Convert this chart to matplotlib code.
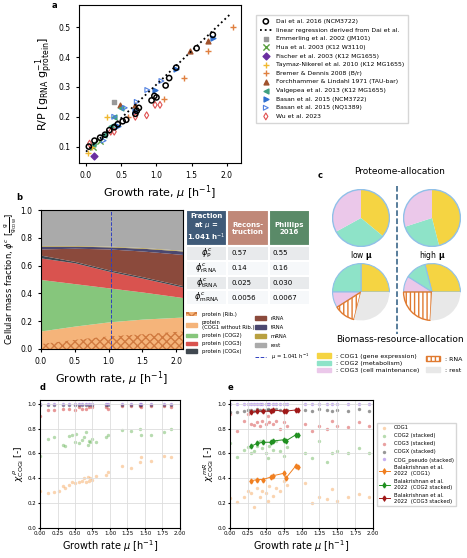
import numpy as np
import matplotlib.pyplot as plt
from matplotlib.patches import Patch
from matplotlib.lines import Line2D

# ---------------- data: panel a ----------------
dai_mu = [0.04, 0.12, 0.2, 0.27, 0.33, 0.4, 0.45, 0.52, 0.57, 0.7, 0.72, 0.75, 0.93, 0.97, 1.0, 1.13, 1.18, 1.28, 1.57, 1.8]
dai_rp = [0.10, 0.12, 0.13, 0.14, 0.155, 0.165, 0.175, 0.185, 0.19, 0.21, 0.22, 0.23, 0.255, 0.27, 0.265, 0.305, 0.33, 0.365, 0.43, 0.475]
reg_mu = [0.0, 2.05]
reg_rp = [0.083, 0.545]
other_sets = [
    ("Emmerling et al. 2002 (JM101)", "s", "#999999", [0.4], [0.25]),
    ("Hua et al. 2003 (K12 W3110)", "x", "#5aa040", [0.1, 0.2], [0.1, 0.12]),
    ("Fischer et al. 2003 (K12 MG1655)", "D", "#6a2fa0", [0.12], [0.067]),
    ("Taymaz-Nikerel et al. 2010 (K12 MG1655)", "+", "#f0b830", [0.03, 0.08, 0.3], [0.08, 0.1, 0.2]),
    ("Bremer & Dennis 2008 (B/r)", "+", "#e08040", [0.6, 1.1, 1.39, 1.73, 2.08], [0.2, 0.26, 0.33, 0.42, 0.5]),
    ("Forchhammer & Lindahl 1971 (TAU-bar)", "^", "#a0522d", [0.48, 0.7, 1.47, 1.73], [0.24, 0.24, 0.42, 0.455]),
    ("Valgepea et al. 2013 (K12 MG1655)", "<", "#40a080", [0.1, 0.25, 0.35, 0.4, 0.5], [0.11, 0.14, 0.17, 0.2, 0.23]),
    ("Basan et al. 2015 (NCM3722)", ">", "#3070d0", [0.45, 0.7, 0.98, 1.28, 1.8], [0.17, 0.22, 0.29, 0.36, 0.465]),
    ("Basan et al. 2015 (NQ1389)", ">", "#5080e0", [0.25, 0.4, 0.55, 0.72, 0.87, 1.07], [0.12, 0.2, 0.23, 0.25, 0.29, 0.32]),
    ("Wu et al. 2023", "d", "#e05050", [0.05, 0.35, 0.4, 0.7, 0.86, 0.98, 1.05], [0.11, 0.15, 0.15, 0.2, 0.205, 0.24, 0.24]),
]

# ---------------- data: panel b (cumulative tops) ----------------
mu_b = [0.0, 0.5, 1.0, 1.5, 2.1]
top_rib = [0.04, 0.07, 0.095, 0.11, 0.13]
top_cog1 = [0.13, 0.165, 0.195, 0.215, 0.23]
top_cog2 = [0.50, 0.47, 0.44, 0.41, 0.37]
top_cog3 = [0.655, 0.62, 0.56, 0.51, 0.445]
top_cogx = [0.675, 0.63, 0.57, 0.52, 0.455]
top_rrna = [0.72, 0.725, 0.72, 0.705, 0.68]
top_trna = [0.74, 0.74, 0.735, 0.725, 0.705]
top_mrna = [0.745, 0.745, 0.74, 0.73, 0.71]
table_rows = [r"$\phi^c_{\rm P}$", r"$\phi^c_{\rm rRNA}$", r"$\phi^c_{\rm tRNA}$", r"$\phi^c_{\rm mRNA}$"]
table_recon = ["0.57", "0.14", "0.025", "0.0056"]
table_phil = ["0.55", "0.16", "0.030", "0.0067"]

# ---------------- data: panel c ----------------
prot_low = [0.36, 0.31, 0.33]
prot_high = [0.46, 0.24, 0.30]
bio_low = [0.25, 0.25, 0.09, 0.12, 0.29]
bio_high = [0.29, 0.12, 0.09, 0.24, 0.26]

# ---------------- data: panel d ----------------
d_cog1_mu = [0.0, 0.12, 0.2, 0.27, 0.33, 0.35, 0.42, 0.45, 0.5, 0.55, 0.6, 0.63, 0.65, 0.68, 0.7, 0.72, 0.75, 0.8, 0.95, 0.97, 1.17, 1.3, 1.43, 1.45, 1.58, 1.77, 1.87]
d_cog1_y = [0.30, 0.28, 0.29, 0.3, 0.34, 0.32, 0.35, 0.37, 0.36, 0.37, 0.38, 0.4, 0.37, 0.41, 0.38, 0.4, 0.39, 0.42, 0.43, 0.45, 0.5, 0.48, 0.53, 0.57, 0.54, 0.58, 0.57]
d_cog2_mu = [0.0, 0.12, 0.2, 0.33, 0.35, 0.42, 0.45, 0.5, 0.52, 0.55, 0.6, 0.63, 0.65, 0.68, 0.7, 0.72, 0.75, 0.8, 0.95, 0.97, 1.17, 1.3, 1.43, 1.45, 1.58, 1.77, 1.87]
d_cog2_y = [0.58, 0.72, 0.73, 0.67, 0.66, 0.74, 0.75, 0.69, 0.76, 0.68, 0.71, 0.73, 0.77, 0.67, 0.7, 0.69, 0.72, 0.69, 0.73, 0.75, 0.79, 0.78, 0.8, 0.75, 0.75, 0.77, 0.8]
d_hi_mu = [0.0, 0.12, 0.2, 0.33, 0.42, 0.5, 0.55, 0.6, 0.65, 0.7, 0.75, 0.95, 0.97, 1.17, 1.3, 1.43, 1.45, 1.58, 1.77, 1.87]
d_cog3_y = [0.9, 0.95, 0.95, 0.96, 0.96, 0.95, 0.97, 0.96, 0.96, 0.97, 0.97, 0.97, 0.96, 0.98, 0.98, 0.98, 0.97, 0.98, 0.98, 0.97]
d_cogx_y = [0.99] * 20
d_pseudo_y = [1.0] * 20

# ---------------- data: panel e ----------------
e_mu = [0.0, 0.1, 0.2, 0.25, 0.3, 0.33, 0.38, 0.42, 0.45, 0.5, 0.53, 0.55, 0.6, 0.65, 0.7, 0.75, 0.8, 1.05, 1.15, 1.25, 1.35, 1.43, 1.5, 1.65, 1.8, 1.95]
e_cog1_y = [0.24, 0.21, 0.25, 0.3, 0.28, 0.17, 0.32, 0.25, 0.3, 0.28, 0.22, 0.34, 0.26, 0.32, 0.3, 0.38, 0.35, 0.36, 0.2, 0.25, 0.23, 0.31, 0.22, 0.25, 0.27, 0.25]
e_cog2_y = [0.68, 0.57, 0.63, 0.65, 0.6, 0.62, 0.66, 0.7, 0.64, 0.6, 0.56, 0.66, 0.63, 0.7, 0.62, 0.58, 0.65, 0.6, 0.56, 0.7, 0.53, 0.6, 0.62, 0.6, 0.64, 0.6]
e_cog3_y = [0.92, 0.78, 0.86, 0.92, 0.84, 0.83, 0.85, 0.82, 0.86, 0.84, 0.9, 0.85, 0.84, 0.86, 0.8, 0.85, 0.82, 0.84, 0.78, 0.82, 0.8, 0.86, 0.82, 0.81, 0.85, 0.82]
e_cogx_y = [0.93, 0.93, 0.94, 0.95, 0.95, 0.94, 0.96, 0.95, 0.94, 0.95, 0.96, 0.95, 0.94, 0.96, 0.95, 0.94, 0.95, 0.95, 0.94, 0.96, 0.95, 0.94, 0.95, 0.94, 0.96, 0.94]
e_pseudo_y = [1.0] * 26
bal_mu = [0.3, 0.38, 0.46, 0.57, 0.6, 0.75, 0.78, 0.92, 0.95]
bal_cog1 = [0.38, 0.39, 0.39, 0.41, 0.42, 0.44, 0.40, 0.50, 0.49]
bal_cog2 = [0.66, 0.68, 0.69, 0.69, 0.70, 0.71, 0.70, 0.75, 0.75]
bal_cog3 = [0.93, 0.94, 0.94, 0.94, 0.95, 0.94, 0.94, 0.95, 0.95]

W, H = 467, 558
fig = plt.figure(figsize=(W / 100, H / 100), dpi=100)


def box(x0, y0, x1, y1):
    # pixel box -> figure fraction rect
    return [x0 / W, 1 - y1 / H, (x1 - x0) / W, (y1 - y0) / H]


# ---------------- panel a ----------------
ax = fig.add_axes(box(79, 5, 241, 163))
h = [ax.scatter(dai_mu, dai_rp, s=14, facecolors="none", edgecolors="k", linewidths=1.1, zorder=3, label="Dai et al. 2016 (NCM3722)")]
h += ax.plot(reg_mu, reg_rp, "k:", lw=1.3, label="linear regression derived from Dai et al.")
for name, m, c, xs, ys in other_sets:
    if m in ("+", "x"):
        h.append(ax.scatter(xs, ys, marker=m, c=c, s=20, lw=1, label=name))
    elif m == "d" or name.endswith("(NQ1389)"):
        h.append(ax.scatter(xs, ys, marker=m, facecolors="none", edgecolors=c, s=12, lw=0.8, label=name))
    else:
        h.append(ax.scatter(xs, ys, marker=m, c=c, s=12, label=name))
ax.set_xlim(-0.1, 2.2)
ax.set_ylim(0.045, 0.575)
ax.set_xticks([0, 0.5, 1, 1.5, 2])
ax.set_yticks([0.1, 0.2, 0.3, 0.4, 0.5])
ax.tick_params(labelsize=5.5, length=2.5)
ax.set_xlabel(r"Growth rate, $\mu$ [h$^{-1}$]", fontsize=8, labelpad=2)
ax.set_ylabel(r"R/P [g$_{\rm RNA}$ g$_{\rm protein}^{-1}$]", fontsize=8, labelpad=2)
fig.legend(handles=h, loc="upper left", bbox_to_anchor=(253 / W, 1 - 12 / H), fontsize=4.4, frameon=True,
           handletextpad=0.6, labelspacing=0.55, borderpad=0.6, fancybox=False, edgecolor="#cccccc")
fig.text(52 / W, 1 - 8 / H, "a", fontsize=6, weight="bold")

# ---------------- panel b ----------------
ax = fig.add_axes(box(41, 210, 183, 349))
zero = [0] * len(mu_b)
ax.fill_between(mu_b, zero, top_rib, facecolor="#f5b47a", hatch="xxxx", edgecolor="#d07a40", lw=0)
ax.fill_between(mu_b, top_rib, top_cog1, color="#f5b47a", lw=0)
ax.fill_between(mu_b, top_cog1, top_cog2, color="#86c67c", lw=0)
ax.fill_between(mu_b, top_cog2, top_cog3, color="#d9534f", lw=0)
ax.fill_between(mu_b, top_cog3, top_cogx, color="#404850", lw=0)
ax.fill_between(mu_b, top_cogx, top_rrna, color="#8b4a3c", lw=0)
ax.fill_between(mu_b, top_rrna, top_trna, color="#4b4870", lw=0)
ax.fill_between(mu_b, top_trna, top_mrna, color="#b8a040", lw=0)
ax.fill_between(mu_b, top_mrna, [1] * len(mu_b), color="#aaaaaa", lw=0)
ax.axvline(1.041, color="#3040c0", ls="--", lw=0.7)
ax.set_xlim(0, 2.1)
ax.set_ylim(0, 1)
ax.set_xticks([0, 0.5, 1, 1.5, 2])
ax.tick_params(labelsize=5.5, length=2.5)
ax.set_xlabel(r"Growth rate, $\mu$ [h$^{-1}$]", fontsize=8, labelpad=2)
ax.set_ylabel(r"Cellular mass fraction, $\phi^c$ [$\frac{\rm g}{\rm g_{CDW}}$]", fontsize=6, labelpad=2)
fig.text(16 / W, 1 - 200 / H, "b", fontsize=6, weight="bold")

tax = fig.add_axes(box(186, 210, 310, 305))
tax.axis("off")
cells = [[r, a, b] for r, a, b in zip(table_rows, table_recon, table_phil)]
tb = tax.table(cellText=cells, colLabels=["Fraction\nat $\\mu$ =\n1.041 h$^{-1}$", "Recons-\ntruction", "Phillips\n2016"],
               bbox=[0, 0, 1, 1], cellLoc="left")
tb.auto_set_font_size(False)
head_cols = ["#3f5a78", "#c08878", "#5a8a68"]
for (r, c), cell in tb.get_celld().items():
    cell.set_edgecolor("white")
    cell.set_linewidth(1.5)
    cell.set_fontsize(5)
    if r == 0:
        cell.set_facecolor(head_cols[c])
        cell.get_text().set_color("white")
        cell.get_text().set_weight("bold")
        cell.get_text().set_ha("center")
        cell.set_height(0.38)
    else:
        cell.set_height(0.155)
        cell.set_facecolor("#e8eaec" if r % 2 == 1 else "#f6f8fa")
        if c == 0:
            cell.get_text().set_ha("center")
            cell.set_fontsize(6)

lh1 = [Patch(facecolor="#f5b47a", hatch="xxxx", edgecolor="#d07a40", lw=0, label="protein (Rib.)"),
       Patch(color="#f5b47a", label="protein\n(COG1 without Rib.)"),
       Patch(color="#86c67c", label="protein (COG2)"),
       Patch(color="#d9534f", label="protein (COG3)"),
       Patch(color="#404850", label="protein (COGx)")]
lh2 = [Patch(color="#8b4a3c", label="rRNA"), Patch(color="#4b4870", label="tRNA"),
       Patch(color="#b8a040", label="mRNA"), Patch(color="#aaaaaa", label="rest"),
       Line2D([], [], color="#3040c0", ls="--", lw=0.7, label=r"$\mu$ = 1.041 h$^{-1}$")]
fig.legend(handles=lh1, loc="upper left", bbox_to_anchor=(181 / W, 1 - 307 / H), fontsize=3.8, frameon=False,
           handlelength=2.2, labelspacing=0.55)
fig.legend(handles=lh2, loc="upper left", bbox_to_anchor=(250 / W, 1 - 311 / H), fontsize=3.8, frameon=False,
           handlelength=2.2, labelspacing=0.75)

# ---------------- panel c ----------------
pc = ["#f5d442", "#8ee3c8", "#ebc8ea"]
edge = "#90c0e8"
for cx, vals in [(361, prot_low), (432, prot_high)]:
    pax = fig.add_axes(box(cx - 29, 189, cx + 29, 247))
    pax.pie(vals, colors=pc, startangle=90, counterclock=False, wedgeprops=dict(linewidth=0))
    pax.add_patch(plt.Circle((0, 0), 1, fill=False, ec=edge, lw=1))
    pax.set_xlim(-1.02, 1.02)
    pax.set_ylim(-1.02, 1.02)
for cx, vals in [(361, bio_low), (432, bio_high)]:
    pax = fig.add_axes(box(cx - 29, 263, cx + 29, 321))
    ws, _ = pax.pie(vals, colors=pc + ["white", "#e8e8e8"], startangle=0, counterclock=True,
                    wedgeprops=dict(linewidth=0))
    ws[3].set_hatch("||||")
    ws[3].set_edgecolor("#e07a30")
    ws[3].set_linewidth(1)
    for w in ws[:3]:
        w.set_edgecolor(edge)
        w.set_linewidth(0.8)
    pax.set_xlim(-1.02, 1.02)
    pax.set_ylim(-1.02, 1.02)
fig.text(400 / W, 1 - 172 / H, "Proteome-allocation", fontsize=6.5, ha="center", va="center")
fig.text(318 / W, 1 - 176 / H, "c", fontsize=6, weight="bold", va="center")
fig.text(361 / W, 1 - 256 / H, r"low $\mathbf{\mu}$", fontsize=5.5, ha="center", va="center")
fig.text(432 / W, 1 - 256 / H, r"high $\mathbf{\mu}$", fontsize=5.5, ha="center", va="center")
fig.add_artist(Line2D([397 / W, 397 / W], [1 - 186 / H, 1 - 334 / H], color="#2a5a80", ls="--", lw=1.1))
fig.text(400 / W, 1 - 340 / H, "Biomass-resource-allocation", fontsize=6.5, ha="center", va="center")
lc = [Patch(color=pc[0], label=": COG1 (gene expression)"),
      Patch(color=pc[1], label=": COG2 (metabolism)"),
      Patch(color=pc[2], label=": COG3 (cell maintenance)")]
fig.legend(handles=lc, loc="upper left", bbox_to_anchor=(313 / W, 1 - 349 / H), fontsize=4.5, frameon=False,
           handlelength=2.2, labelspacing=0.3, borderpad=0.2)
lc2 = [Patch(facecolor="white", hatch="||||", edgecolor="#e07a30", label=": RNA"), Patch(color="#e8e8e8", label=": rest")]
fig.legend(handles=lc2, loc="upper left", bbox_to_anchor=(422 / W, 1 - 352 / H), fontsize=4.5, frameon=False,
           handlelength=2.2, labelspacing=0.9, borderpad=0.2)

# ---------------- panel d ----------------
ax = fig.add_axes(box(40, 400, 180, 528))
ax.scatter(d_cog1_mu, d_cog1_y, s=6, c="#f5a050", alpha=0.45, lw=0)
ax.scatter(d_cog2_mu, d_cog2_y, s=6, c="#60b050", alpha=0.45, lw=0)
ax.scatter(d_hi_mu, d_cog3_y, s=6, c="#d03030", alpha=0.5, lw=0)
ax.scatter(d_hi_mu, d_cogx_y, s=6, c="#303030", alpha=0.5, lw=0)
ax.scatter(d_hi_mu, d_pseudo_y, s=6, c="#9060e0", alpha=0.5, lw=0)
ax.set_ylabel(r"$\chi^{\,\rho}_{\rm COGi}$ [-]", fontsize=6.5, labelpad=1)
fig.text(40 / W, 1 - 390 / H, "d", fontsize=6, weight="bold")

# ---------------- panel e ----------------
ax2 = fig.add_axes(box(230, 400, 373, 528))
ax2.scatter(e_mu, e_cog1_y, s=6, c="#f5a050", alpha=0.45, lw=0, label="COG1")
ax2.scatter(e_mu, e_cog2_y, s=6, c="#60b050", alpha=0.45, lw=0, label="COG2 (stacked)")
ax2.scatter(e_mu, e_cog3_y, s=6, c="#d03030", alpha=0.45, lw=0, label="COG3 (stacked)")
ax2.scatter(e_mu, e_cogx_y, s=6, c="#303030", alpha=0.5, lw=0, label="COGX (stacked)")
ax2.scatter(e_mu, e_pseudo_y, s=6, c="#9060e0", alpha=0.5, lw=0, label="COG_pseudo (stacked)")
ax2.errorbar(bal_mu, bal_cog1, yerr=0.015, fmt="-d", ms=2.5, lw=0.7, color="#f07f20", label="Balakrishnan et al.\n2022  (COG1)")
ax2.errorbar(bal_mu, bal_cog2, yerr=0.015, fmt="-d", ms=2.5, lw=0.7, color="#209020", label="Balakrishnan et al.\n2022  (COG2 stacked)")
ax2.errorbar(bal_mu, bal_cog3, yerr=0.015, fmt="-d", ms=2.5, lw=0.7, color="#a01818", label="Balakrishnan et al.\n2022  (COG3 stacked)")
ax2.set_ylabel(r"$\chi^{\,mR}_{\rm COGi}$ [-]", fontsize=6.5, labelpad=1)
ax2.legend(loc="upper left", bbox_to_anchor=(1.01, 0.84), fontsize=3.8, labelspacing=0.55, fancybox=False,
           edgecolor="#cccccc")
fig.text(228 / W, 1 - 390 / H, "e", fontsize=6, weight="bold")

for a in (ax, ax2):
    a.set_xlim(0, 2)
    a.set_ylim(0, 1.03)
    a.set_xticks(np.arange(0, 2.01, 0.25))
    a.set_yticks([0, 0.2, 0.4, 0.6, 0.8, 1.0])
    a.tick_params(labelsize=4, length=1.5, pad=1)
    a.grid(True, color="#dddddd", lw=0.6)
    a.set_xlabel(r"Growth rate $\mu$ [h$^{-1}$]", fontsize=7, labelpad=1)

fig.savefig("out.png", dpi=100)
